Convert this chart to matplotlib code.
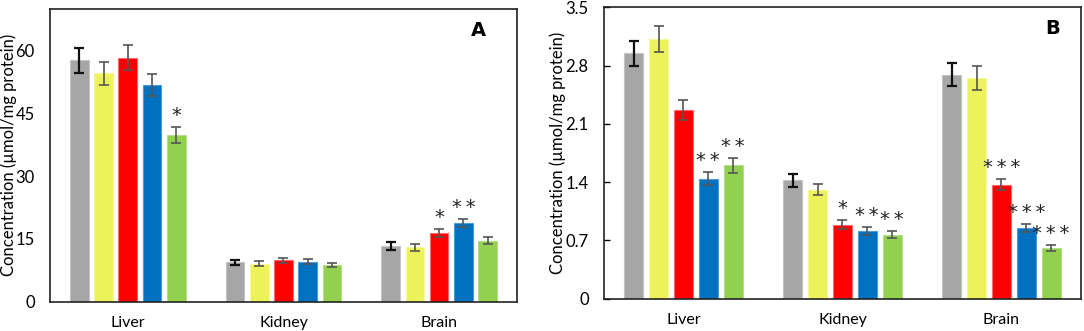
import matplotlib
matplotlib.use("Agg")
import matplotlib.pyplot as plt
import numpy as np

plt.rcParams['font.family'] = ['Lato', 'DejaVu Sans']

tissues = ["Liver", "Kidney", "Brain"]
colors = ["#A6A6A6", "#EEF25A", "#FF0000", "#0070C0", "#92D050"]
edges = ["#C4C4C4", "#F6F89A", "#FF6A6A", "#4A9BDB", "#B3E085"]

# Panel A values (series x tissue)
a_gray = [57.7, 9.4, 13.3]
a_yellow = [54.6, 9.1, 13.0]
a_red = [58.4, 9.9, 16.4]
a_blue = [51.8, 9.5, 18.8]
a_green = [39.9, 8.8, 14.6]
a_gray_err = [3.0, 0.55, 0.9]
a_yellow_err = [2.7, 0.55, 0.8]
a_red_err = [3.0, 0.6, 0.95]
a_blue_err = [2.6, 0.6, 1.0]
a_green_err = [2.0, 0.5, 0.8]
a_sig = [["", "", ""], ["", "", ""], ["", "", "*"], ["", "", "**"], ["*", "", ""]]

# Panel B values
b_gray = [2.95, 1.42, 2.69]
b_yellow = [3.12, 1.31, 2.65]
b_red = [2.27, 0.89, 1.37]
b_blue = [1.44, 0.81, 0.85]
b_green = [1.60, 0.77, 0.61]
b_gray_err = [0.15, 0.08, 0.14]
b_yellow_err = [0.16, 0.07, 0.14]
b_red_err = [0.12, 0.05, 0.07]
b_blue_err = [0.08, 0.05, 0.05]
b_green_err = [0.09, 0.045, 0.035]
b_sig = [["", "", ""], ["", "", ""], ["", "*", "***"], ["**", "**", "***"], ["**", "**", "***"]]

a_ticks = [0, 15, 30, 45, 60]
b_ticks = [0, 0.7, 1.4, 2.1, 2.8, 3.5]
ylabel = "Concentration (\u00b5mol/mg protein)"

fig = plt.figure(figsize=(10.84, 3.31), dpi=100)
axA = fig.add_axes([0.0461, 0.0885, 0.4308, 0.8843])
axB = fig.add_axes([0.5572, 0.0976, 0.4400, 0.8804])


def draw(ax, vals, errs, sigs, ymax, ticks, ticklabels, letter, tick_len, label_x):
    centers = np.arange(len(tissues)) + 0.5
    step = 0.156
    width = 0.12
    for i, (v, e) in enumerate(zip(vals, errs)):
        x = centers + (i - 2) * step
        ax.bar(x, v, width=width, color=colors[i], edgecolor=edges[i], linewidth=0.8, zorder=2)
        ecol = "#111111" if i == 0 else "#555555"
        elw = 1.6 if i == 0 else 1.2
        ax.errorbar(x, v, yerr=e, fmt='none', ecolor=ecol, elinewidth=elw,
                    capsize=3.5, capthick=elw, zorder=3)
        for j in range(len(tissues)):
            if sigs[i][j]:
                ax.annotate("\u2009".join(sigs[i][j]),
                            (x[j], v[j] + e[j]), xytext=(0, 2),
                            textcoords='offset pixels', ha='center', va='bottom',
                            fontsize=14, color="#222222", family='DejaVu Sans')
    ax.set_xlim(0, 3)
    ax.set_ylim(0, ymax)
    ax.set_xticks(centers)
    ax.set_xticklabels(tissues, fontsize=11.5)
    ax.tick_params(axis='x', length=0, pad=10)
    ax.set_yticks(ticks)
    ax.set_yticklabels(ticklabels, fontsize=12)
    ax.tick_params(axis='y', direction='in', length=tick_len, pad=11, width=1)
    for s in ax.spines.values():
        s.set_color("#222222")
        s.set_linewidth(1.2)
    ax.set_ylabel(ylabel, fontsize=12)
    ax.yaxis.set_label_coords(label_x, 0.5)
    ax.text(0.917 if letter == "A" else 0.941, 0.928, letter, transform=ax.transAxes,
            fontsize=14, fontweight='bold', ha='center', va='center', family='DejaVu Sans')


draw(axA, [a_gray, a_yellow, a_red, a_blue, a_green],
     [a_gray_err, a_yellow_err, a_red_err, a_blue_err, a_green_err],
     a_sig, 70, a_ticks, [str(t) for t in a_ticks], "A", 0, -0.070)
draw(axB, [b_gray, b_yellow, b_red, b_blue, b_green],
     [b_gray_err, b_yellow_err, b_red_err, b_blue_err, b_green_err],
     b_sig, 3.5, b_ticks, ["0", "0.7", "1.4", "2.1", "2.8", "3.5"], "B", 4, -0.080)

fig.savefig("out.png", dpi=100)
